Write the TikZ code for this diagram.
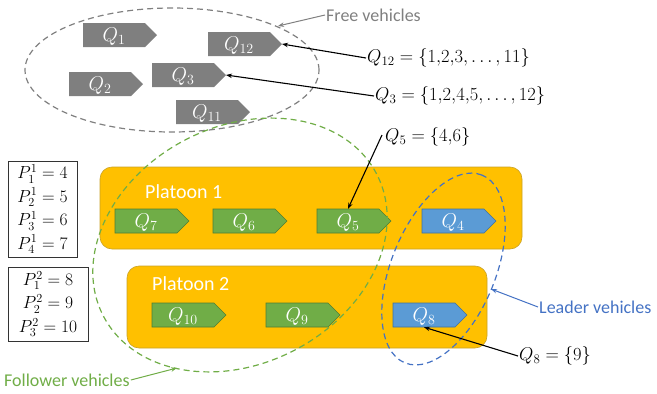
\documentclass[tikz,border=0pt]{standalone}
\usepackage{fix-cm}
\usepackage{fontspec}
\setmainfont{Carlito}
\usetikzlibrary{arrows.meta,shapes.geometric,calc}
\definecolor{vgray}{HTML}{7F7F7F}
\definecolor{vgreen}{HTML}{70AD47}
\definecolor{vgreenD}{HTML}{507E32}
\definecolor{vblue}{HTML}{5B9BD5}
\definecolor{vblueD}{HTML}{41719C}
\definecolor{porange}{HTML}{FFC000}
\definecolor{porangeD}{HTML}{C9A227}
\definecolor{lgray}{HTML}{808080}
\definecolor{lgreen}{HTML}{70AD47}
\definecolor{lblue}{HTML}{4472C4}
\tikzset{
  grayveh/.style={fill=vgray},
  greenveh/.style={fill=vgreen,draw=vgreenD,line width=0.6pt},
  blueveh/.style={fill=vblue,draw=vblueD,line width=0.6pt},
  vlab/.style={minimum width=62pt,minimum height=24pt,inner sep=0pt,text=white,font=\fontsize{20}{22}\selectfont},
  platoon/.style={fill=porange,draw=porangeD,line width=0.6pt,rounded corners=12pt,inner sep=0pt},
  ptitle/.style={text=white,font=\fontsize{20}{24}\selectfont,anchor=west,inner sep=0pt},
  eqlab/.style={font=\fontsize{18.5}{22}\selectfont,inner sep=1pt},
  pbox/.style={draw=black!80,line width=0.7pt,inner sep=1pt,align=center,font=\fontsize{17.5}{23.5}\selectfont},
  ptr/.style={-{Stealth[length=6pt,width=4.5pt]},line width=1.1pt},
  grp/.style={ellipse,dashed,dash pattern=on 6pt off 4pt,line width=1.2pt,inner sep=0pt},
  captxt/.style={font=\fontsize{18}{21}\selectfont,inner sep=1pt},
}
\newcommand\veh[5]{%
  \path[#4] (#2,#3) -- ++(62,0) -- ++(12,12) -- ++(-12,12) -- ++(-62,0) -- cycle;
  \node[vlab] (#1) at (#2+31,#3+12) {};
  \node[vlab,minimum width=0pt,minimum height=0pt] (#1t) at (#2+31,#3+13.5) {$#5$};
  \coordinate (#1tip) at (#2+74,#3+12);
}
\begin{document}
\begin{tikzpicture}[x=1pt,y=-1pt]
\useasboundingbox (0,0) rectangle (657,394);
% platoons
\node[platoon,minimum width=422pt,minimum height=82pt] (pl1) at (311,208) {};
\node[platoon,minimum width=360pt,minimum height=82pt] (pl2) at (307,307) {};
\node[ptitle] (pl1t) at (145,192) {Platoon 1};
\node[ptitle] (pl2t) at (152,284) {Platoon 2};
% free vehicles
\veh{Q1}{83}{23}{grayveh}{Q_1}
\veh{Q12}{208}{32}{grayveh}{Q_{12}}
\veh{Q2}{69}{72}{grayveh}{Q_2}
\veh{Q3}{152}{63}{grayveh}{Q_3}
\veh{Q11}{176}{100}{grayveh}{Q_{11}}
% platoon 1
\veh{Q7}{115}{209}{greenveh}{Q_7}
\veh{Q6}{213}{209}{greenveh}{Q_6}
\veh{Q5}{317}{209}{greenveh}{Q_5}
\veh{Q4}{422}{209}{blueveh}{Q_4}
% platoon 2
\veh{Q10}{152}{303}{greenveh}{Q_{10}}
\veh{Q9}{266}{303}{greenveh}{Q_9}
\veh{Q8}{393}{303}{blueveh}{Q_8}
% group ellipses
\node[grp,draw=lgray,minimum width=294pt,minimum height=124pt] (free) at (172,70) {};
\node[grp,draw=lgreen,minimum width=308pt,minimum height=237pt,rotate=27.5] (follow) at (240,245) {};
\node[grp,draw=lblue,minimum width=203pt,minimum height=104pt,rotate=67.6] (lead) at (443.5,269) {};
% P boxes
\node[pbox,minimum width=69pt,minimum height=96pt] (pb1) at (42.5,209) {$P_1^1=4$\\$P_2^1=5$\\$P_3^1=6$\\$P_4^1=7$};
\node[pbox,minimum width=80pt,minimum height=74pt] (pb2) at (48,304) {$P_1^2=8$\\$P_2^2=9$\\$P_3^2=10$};
% equation labels
\node[eqlab,anchor=west] (e12) at (366,58) {$Q_{12}=\{1{,}2{,}3,\ldots,11\}$};
\node[eqlab,anchor=west] (e3) at (374,96) {$Q_{3}=\{1{,}2{,}4{,}5,\ldots,12\}$};
\node[eqlab,anchor=west] (e5) at (384,137) {$Q_{5}=\{4{,}6\}$};
\node[eqlab,anchor=west] (e8) at (518,356) {$Q_{8}=\{9\}$};
\coordinate (e5s) at (382,135);
\draw[ptr] (e12.west) -- (Q12tip);
\draw[ptr] (e3.west) -- (Q3tip);
\draw[ptr] (e5s) -- (Q5.north);
\draw[ptr] (e8.west) -- (Q8.south);
% captions
\node[captxt,text=lgray,anchor=west] (cfree) at (325,15) {Free vehicles};
\node[captxt,text=lblue,anchor=west] (clead) at (538,307) {Leader vehicles};
\node[captxt,text=lgreen,anchor=west] (cfol) at (3,380) {Follower vehicles};
\coordinate (tfree) at (278,26);
\coordinate (tlead) at (491,289);
\coordinate (tfol) at (177,368);
\draw[ptr,draw=lgray,line width=1pt] (cfree.west) -- (tfree);
\draw[ptr,draw=lblue,line width=1pt] (clead.west) -- (tlead);
\draw[ptr,draw=lgreen,line width=1pt] (cfol.east) -- (tfol);
\end{tikzpicture}
\end{document}
